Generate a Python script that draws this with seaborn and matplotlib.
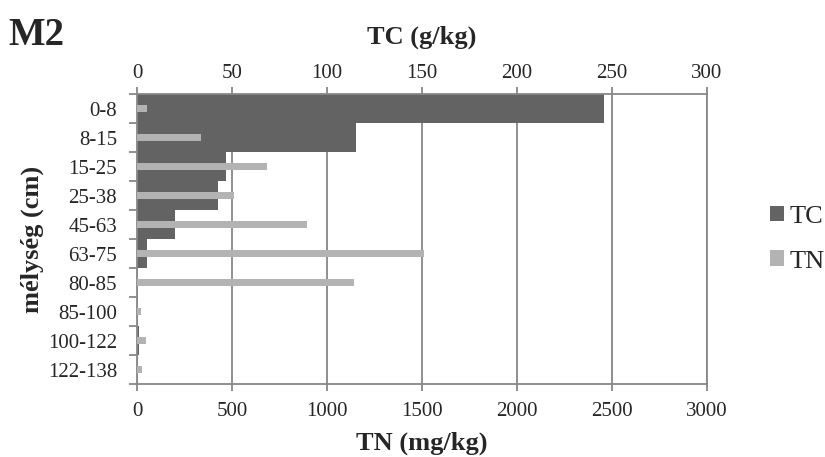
import matplotlib
matplotlib.use('Agg')
import matplotlib.pyplot as plt
import seaborn as sns
import pandas as pd
import numpy as np
from matplotlib.patches import Patch

depths = ['0-8', '8-15', '15-25', '25-38', '45-63', '63-75', '80-85', '85-100', '100-122', '122-138']
tc = [245.7, 115.5, 46.8, 42.4, 20.0, 5.3, 0.0, 0.0, 0.8, 0.0]
tn = [52, 338, 685, 510, 892, 1510, 1141, 21, 47, 26]
tc_ticks = [0, 50, 100, 150, 200, 250, 300]
tn_ticks = [0, 500, 1000, 1500, 2000, 2500, 3000]

sns.set_theme(style='white')
plt.rcParams['font.family'] = ['Liberation Serif', 'DejaVu Serif']

TC_COL = '#636363'
TN_COL = '#b3b3b3'
GRID = '#878787'

df = pd.DataFrame({'depth': depths, 'TC': tc, 'TN': tn})

fig = plt.figure(figsize=(8.25, 4.57), dpi=100)
ax = fig.add_axes([0.1661, 0.1597, 0.6909, 0.6340])

sns.barplot(data=df, x='TC', y='depth', orient='h', color=TC_COL, width=1.0,
            saturation=1, linewidth=0, errorbar=None, ax=ax)
ax2 = ax.twiny()
sns.barplot(data=df, x='TN', y='depth', orient='h', color=TN_COL, width=0.24,
            saturation=1, linewidth=0, errorbar=None, ax=ax2)

ax.set_xlim(0, 300)
ax2.set_xlim(0, 3000)
ax.set_xticks(tc_ticks)
ax2.set_xticks(tn_ticks)
ax.set_ylim(len(depths) - 0.5, -0.5)

ax.set_axisbelow(True)
ax.grid(axis='x', color=GRID, linewidth=1.3)
ax.grid(axis='y', visible=False)

# top axis = TC
ax.xaxis.set_ticks_position('top')
ax.xaxis.set_label_position('top')
ax.set_xlabel('TC (g/kg)', fontsize=19, fontweight='bold', labelpad=15)
ax.tick_params(axis='x', which='major', direction='out', length=5, width=1.3,
               color=GRID, labelsize=15, pad=3, top=True, bottom=False)

# bottom axis = TN
ax2.xaxis.set_ticks_position('bottom')
ax2.xaxis.set_label_position('bottom')
ax2.set_xlabel('TN (mg/kg)', fontsize=19, fontweight='bold', labelpad=7.5)
ax2.tick_params(axis='x', which='major', direction='out', length=5, width=1.3,
                color=GRID, labelsize=15, pad=8, top=False, bottom=True)

# category axis
ax.set_yticks(range(len(depths)))
ax.set_yticklabels(depths)
ax.set_yticks(np.arange(-0.5, len(depths), 1.0), minor=True)
ax.tick_params(axis='y', which='major', length=0, labelsize=15, pad=14.4, left=True)
ax.tick_params(axis='y', which='minor', length=6, width=1.3, color=GRID, left=True)
ax.set_ylabel('mélység (cm)', fontsize=19, fontweight='bold')
ax.yaxis.set_label_coords(-0.163, 0.5)

for s in ax.spines.values():
    s.set_color(GRID)
    s.set_linewidth(1.3)
    s.set_visible(True)
for s in ax2.spines.values():
    s.set_visible(False)

fig.text(0.010, 0.9015, 'M2', fontsize=28, fontweight='bold', va='baseline', ha='left')

handles = [Patch(facecolor=TC_COL, edgecolor='none'), Patch(facecolor=TN_COL, edgecolor='none')]
fig.legend(handles, ['TC', 'TN'], loc='center left', bbox_to_anchor=(0.933, 0.477),
           frameon=False, fontsize=19, handlelength=0.55, handleheight=0.55,
           handletextpad=0.2, labelspacing=0.85, borderaxespad=0, borderpad=0)

fig.savefig('out.png', dpi=100)
